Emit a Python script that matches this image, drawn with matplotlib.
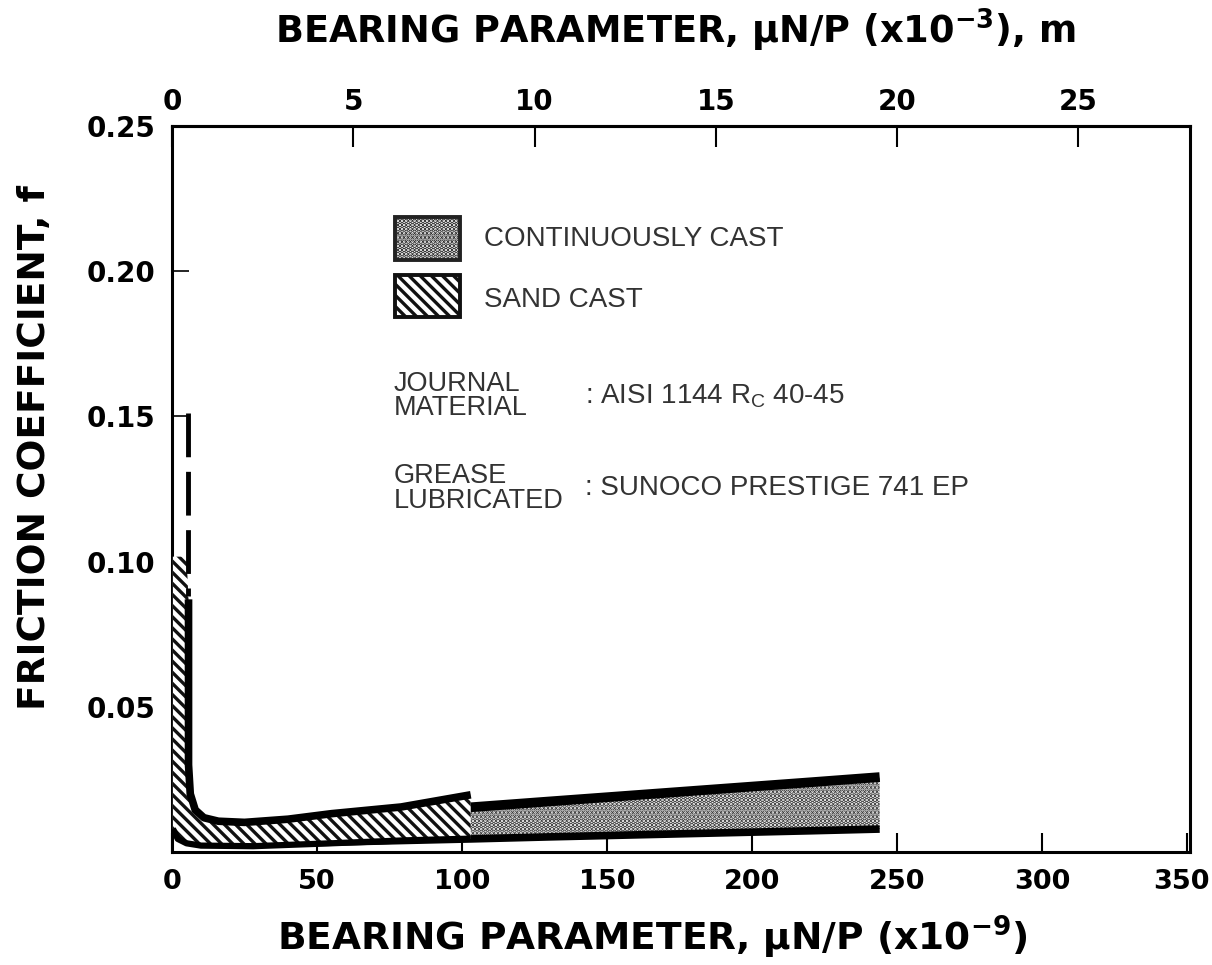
import matplotlib
matplotlib.use('Agg')
import matplotlib.pyplot as plt
from matplotlib.patches import Rectangle

# ---------------- data ----------------
x_ticks = [0, 50, 100, 150, 200, 250, 300, 350]
x_tick_labels = ['0', '50', '100', '150', '200', '250', '300', '350']
y_ticks = [0.05, 0.10, 0.15, 0.20, 0.25]
y_tick_labels = ['0.05', '0.10', '0.15', '0.20', '0.25']
top_ticks = [0, 5, 10, 15, 20, 25]
top_scale = 12.5  # bottom units per top unit

# Sand cast band (hatched)
sand_upper_x = [5.0, 5.7, 5.7, 6.3, 8.0, 11, 16, 25, 40, 55, 79, 103]
sand_upper_y = [0.1017, 0.087, 0.030, 0.020, 0.0145, 0.0118, 0.0106, 0.0102, 0.0113, 0.0132, 0.0155, 0.0197]
sand_lower_x = [0.3, 0.3, 2.0, 5.0, 10, 28, 55, 80, 103]
sand_lower_y = [0.1017, 0.008, 0.0045, 0.0030, 0.0022, 0.0020, 0.0030, 0.0040, 0.0046]
dash_x = [5.5, 5.5]
dash_y = [0.151, 0.088]

# Continuously cast band (stippled)
cont_x = [20, 60, 103, 130, 160, 190, 220, 244]
cont_upper = [0.0085, 0.0122, 0.0154, 0.0174, 0.0196, 0.0218, 0.0240, 0.0258]
cont_lower = [0.0025, 0.0035, 0.0045, 0.0052, 0.0059, 0.0066, 0.0073, 0.0079]

legend_labels = ['CONTINUOUSLY CAST', 'SAND CAST']
info_keys = ['JOURNAL\nMATERIAL', 'GREASE\nLUBRICATED']
info_vals = [': AISI 1144 R$_\\mathregular{C}$ 40-45', ': SUNOCO PRESTIGE 741 EP']

# ---------------- style ----------------
plt.rcParams['font.family'] = ['DejaVu Sans']
plt.rcParams['font.weight'] = 'bold'
plt.rcParams['mathtext.fontset'] = 'dejavusans'
plt.rcParams['hatch.linewidth'] = 2.4

fig = plt.figure(figsize=(12.12, 9.65), dpi=100)
ax = fig.add_axes([172 / 1212, 113 / 965, 1018 / 1212, 726 / 965])
ax.set_xlim(0, 351)
ax.set_ylim(0, 0.25)

# continuously cast band
ax.fill_between(cont_x, cont_lower, cont_upper, facecolor='white', edgecolor='#333333',
                hatch='....', linewidth=0, zorder=2)
ax.plot(cont_x, cont_upper, color='k', lw=7, solid_capstyle='butt', zorder=3)
ax.plot(cont_x, cont_lower, color='k', lw=5.5, solid_capstyle='butt', zorder=3)

# sand cast band
poly_x = sand_lower_x + sand_upper_x[::-1]
poly_y = sand_lower_y + sand_upper_y[::-1]
ax.fill(poly_x, poly_y, facecolor='white', edgecolor='#111111', hatch='\\\\\\',
        linewidth=0, zorder=4)
ax.plot(sand_upper_x[1:], sand_upper_y[1:], color='k', lw=5.5, solid_capstyle='butt',
        solid_joinstyle='round', zorder=5)
ax.plot(sand_lower_x[1:], sand_lower_y[1:], color='k', lw=4.5, solid_capstyle='butt',
        solid_joinstyle='round', zorder=5)
ax.plot(dash_x, dash_y, color='k', lw=3.5, dashes=(9, 3), zorder=5)

# legend boxes
ax.add_patch(Rectangle((76.8, 0.2040), 22.5, 0.0145, facecolor='white', edgecolor='#222222',
                       hatch='....', lw=2.8, zorder=5))
ax.add_patch(Rectangle((76.8, 0.1843), 22.5, 0.0145, facecolor='white', edgecolor='#111111',
                       hatch='\\\\\\', lw=2.8, zorder=5))
legend_y = [0.2112, 0.1902]
for lab, yy in zip(legend_labels, legend_y):
    ax.text(107.5, yy, lab, fontsize=20, family='Liberation Sans', weight='normal',
            color='#333333', va='center', ha='left')
info_y = [0.1570, 0.1252]
for k, v, yy in zip(info_keys, info_vals, info_y):
    ax.text(76.4, yy, k, fontsize=19.5, family='Liberation Sans', weight='normal',
            color='#333333', va='center', ha='left', linespacing=0.92)
    ax.text(142.5, yy, v, fontsize=20, family='Liberation Sans', weight='normal',
            color='#333333', va='center', ha='left')

# axes styling
for sp in ax.spines.values():
    sp.set_linewidth(2.2)
ax.set_xticks(x_ticks, x_tick_labels[:-1] + [''])
ax.set_yticks(y_ticks, y_tick_labels)
ax.tick_params(axis='x', direction='in', length=14, width=1.5, pad=12, labelsize=19.5,
               top=False)
ax.tick_params(axis='y', direction='in', length=12, width=1.2, pad=12, labelsize=20,
               right=False)
# last bottom tick label, nudged left so it stays inside the figure
ax.annotate(x_tick_labels[-1], xy=(x_ticks[-1], 0), xycoords=('data', 'axes fraction'),
            xytext=(-4, -12), textcoords='offset points', ha='center', va='top',
            fontsize=19.5, weight='bold')

secax = ax.secondary_xaxis('top', functions=(lambda v: v / top_scale, lambda v: v * top_scale))
secax.set_xticks(top_ticks)
secax.tick_params(axis='x', direction='in', length=15, width=1.5, pad=7, labelsize=20)
secax.spines['top'].set_linewidth(2.2)

fig.text(0.557, 0.968, 'BEARING PARAMETER, $\\mathrm{\\mu}$N/P (x10$^{\\mathbf{-3}}$), m',
         ha='center', va='center', fontsize=26.5)
fig.text(0.538, 0.029, 'BEARING PARAMETER, $\\mathrm{\\mu}$N/P (x10$^{\\mathbf{-9}}$)',
         ha='center', va='center', fontsize=27)
fig.text(0.029, 0.536, 'FRICTION COEFFICIENT, f', rotation=90,
         ha='center', va='center', fontsize=27)

fig.savefig('out.png', dpi=100, facecolor='white')
